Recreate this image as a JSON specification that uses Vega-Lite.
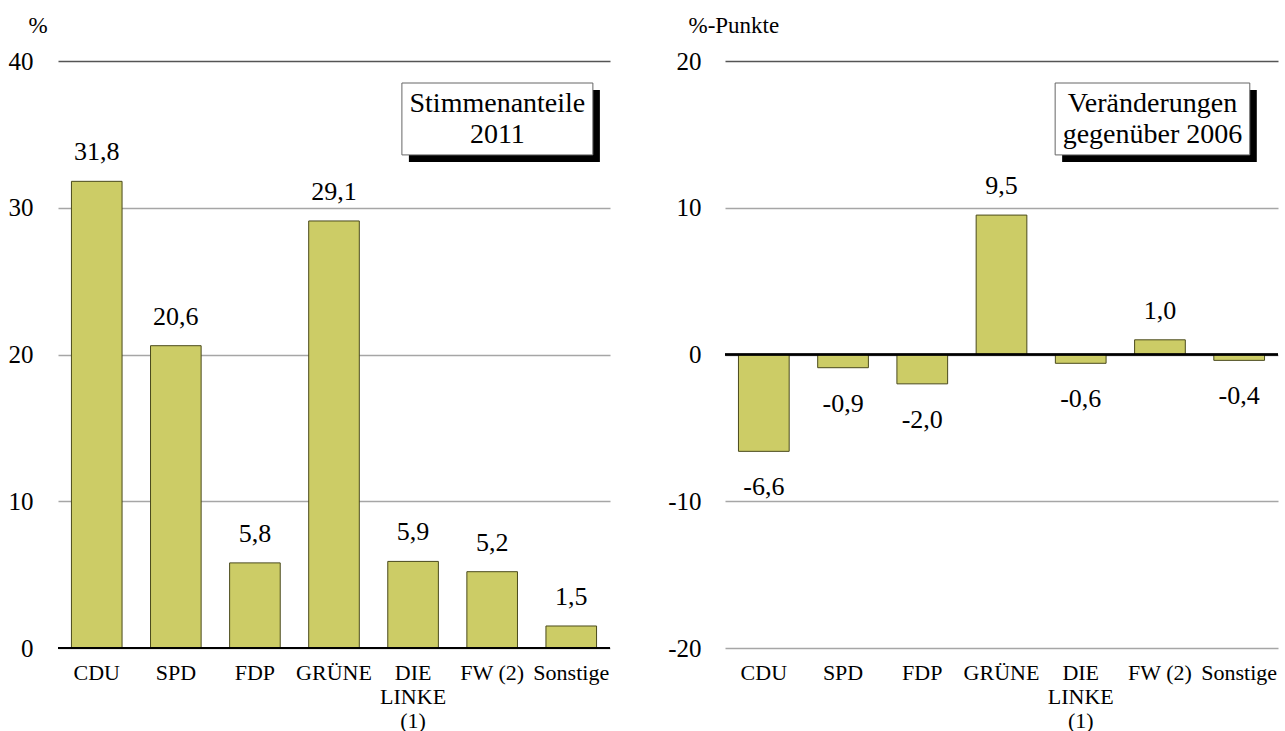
{
  "$schema": "https://vega.github.io/schema/vega-lite/v6.json",
  "background": "white",
  "padding": {"left": 8, "top": 14, "right": 0, "bottom": 0},
  "spacing": 56,
  "config": {
    "font": "'Liberation Serif', 'Times New Roman', Times, serif",
    "text": {"font": "'Liberation Serif', 'Times New Roman', Times, serif"},
    "view": {"stroke": null},
    "locale": {"number": {"decimal": ",", "thousands": ".", "grouping": [3], "currency": ["", " €"], "minus": "-"}},
    "axis": {"labelColor": "#000", "titleColor": "#000", "titleFontWeight": "normal", "labelFont": "'Liberation Serif', 'Times New Roman', Times, serif", "titleFont": "'Liberation Serif', 'Times New Roman', Times, serif"}
  },
  "datasets": {
    "anteile": [
      {"partei": "CDU", "wert": 31.8},
      {"partei": "SPD", "wert": 20.6},
      {"partei": "FDP", "wert": 5.8},
      {"partei": "GRÜNE", "wert": 29.1},
      {"partei": "DIE LINKE (1)", "wert": 5.9},
      {"partei": "FW (2)", "wert": 5.2},
      {"partei": "Sonstige", "wert": 1.5}
    ],
    "veraenderung": [
      {"partei": "CDU", "wert": -6.6},
      {"partei": "SPD", "wert": -0.9},
      {"partei": "FDP", "wert": -2.0},
      {"partei": "GRÜNE", "wert": 9.5},
      {"partei": "DIE LINKE (1)", "wert": -0.6},
      {"partei": "FW (2)", "wert": 1.0},
      {"partei": "Sonstige", "wert": -0.4}
    ],
    "box1": [{"text": "Stimmenanteile\n2011"}],
    "box2": [{"text": "Veränderungen\ngegenüber 2006"}]
  },
  "hconcat": [
    {
      "width": 552,
      "height": 587,
      "resolve": {"scale": {"x": "independent"}},
      "layer": [
        {
          "data": {"name": "anteile"},
          "layer": [
            {
              "mark": {"type": "bar", "fill": "#cccc66", "stroke": "#4a4a1c", "strokeWidth": 1},
              "encoding": {
                "x": {
                  "field": "partei", "type": "nominal", "sort": null,
                  "scale": {"paddingInner": 0.36, "paddingOuter": 0.17},
                  "axis": {"title": null, "labelAngle": 0, "labelFontSize": 22, "labelPadding": 14, "labelBaseline": "top", "labelLineHeight": 24, "ticks": false, "domain": false, "grid": false,
                    "labelExpr": "datum.label == 'DIE LINKE (1)' ? ['DIE', 'LINKE', '(1)'] : datum.label"}
                },
                "y": {
                  "field": "wert", "type": "quantitative",
                  "scale": {"domain": [0, 40], "nice": false},
                  "axis": {"values": [0, 10, 20, 30, 40], "title": "%", "titleAngle": 0, "titleAlign": "left", "titleBaseline": "alphabetic", "titleX": -30, "titleY": -29, "titleFontSize": 23,
                    "labelFontSize": 25, "labelPadding": 25, "ticks": false, "domain": false, "grid": true, "gridWidth": 1.3,
                    "gridColor": {"condition": {"test": "datum.value == 40", "value": "#555555"}, "value": "#a6a6a6"}}
                }
              }
            },
            {
              "mark": {"type": "text", "fontSize": 26, "baseline": "alphabetic", "dy": -21, "color": "#000", "font": "Liberation Serif"},
              "encoding": {
                "x": {"field": "partei", "type": "nominal", "sort": null},
                "y": {"field": "wert", "type": "quantitative"},
                "text": {"field": "wert", "type": "quantitative", "format": ".1f"}
              }
            },
            {
              "mark": {"type": "rule", "color": "#000", "strokeWidth": 1.5},
              "encoding": {"y": {"datum": 0}}
            }
          ]
        },
        {
          "data": {"name": "box1"},
          "layer": [
            {
              "mark": {"type": "rect", "fill": "#000", "xOffset": 7, "x2Offset": 7, "yOffset": 7, "y2Offset": 7},
              "encoding": {
                "x": {"datum": 0.623, "type": "quantitative", "scale": {"domain": [0, 1], "nice": false}, "axis": null},
                "x2": {"datum": 0.969},
                "y": {"datum": 38.5},
                "y2": {"datum": 33.6}
              }
            },
            {
              "mark": {"type": "rect", "fill": "#fff", "stroke": "#666666", "strokeWidth": 1},
              "encoding": {
                "x": {"datum": 0.623, "type": "quantitative"},
                "x2": {"datum": 0.969},
                "y": {"datum": 38.5},
                "y2": {"datum": 33.6}
              }
            },
            {
              "mark": {"type": "text", "fontSize": 28, "lineBreak": "\n", "lineHeight": 31, "baseline": "middle", "align": "center", "color": "#000", "font": "Liberation Serif"},
              "encoding": {
                "x": {"datum": 0.796, "type": "quantitative"},
                "y": {"datum": 37.07},
                "text": {"field": "text"}
              }
            }
          ]
        }
      ]
    },
    {
      "width": 553,
      "height": 587,
      "resolve": {"scale": {"x": "independent"}},
      "layer": [
        {
          "data": {"name": "veraenderung"},
          "layer": [
            {
              "mark": {"type": "bar", "fill": "#cccc66", "stroke": "#4a4a1c", "strokeWidth": 1},
              "encoding": {
                "x": {
                  "field": "partei", "type": "nominal", "sort": null,
                  "scale": {"paddingInner": 0.36, "paddingOuter": 0.17},
                  "axis": {"title": null, "labelAngle": 0, "labelFontSize": 22, "labelPadding": 14, "labelBaseline": "top", "labelLineHeight": 24, "ticks": false, "domain": false, "grid": false,
                    "labelExpr": "datum.label == 'DIE LINKE (1)' ? ['DIE', 'LINKE', '(1)'] : datum.label"}
                },
                "y": {
                  "field": "wert", "type": "quantitative",
                  "scale": {"domain": [-20, 20], "nice": false},
                  "axis": {"values": [-20, -10, 0, 10, 20], "title": "%-Punkte", "titleAngle": 0, "titleAlign": "left", "titleBaseline": "alphabetic", "titleX": -37, "titleY": -29, "titleFontSize": 23,
                    "labelFontSize": 25, "labelPadding": 24, "ticks": false, "domain": false, "grid": true, "gridWidth": 1.3,
                    "gridColor": {"condition": {"test": "datum.value == 20", "value": "#555555"}, "value": "#a6a6a6"}}
                }
              }
            },
            {
              "transform": [{"filter": "datum.wert >= 0"}],
              "mark": {"type": "text", "fontSize": 26, "baseline": "alphabetic", "dy": -21, "color": "#000", "font": "Liberation Serif"},
              "encoding": {
                "x": {"field": "partei", "type": "nominal", "sort": null},
                "y": {"field": "wert", "type": "quantitative"},
                "text": {"field": "wert", "type": "quantitative", "format": ".1f"}
              }
            },
            {
              "transform": [{"filter": "datum.wert < 0"}],
              "mark": {"type": "text", "fontSize": 26, "baseline": "alphabetic", "dy": 44, "color": "#000", "font": "Liberation Serif"},
              "encoding": {
                "x": {"field": "partei", "type": "nominal", "sort": null},
                "y": {"field": "wert", "type": "quantitative"},
                "text": {"field": "wert", "type": "quantitative", "format": ".1f"}
              }
            },
            {
              "mark": {"type": "rule", "color": "#000", "strokeWidth": 1.5},
              "encoding": {"y": {"datum": 0}}
            }
          ]
        },
        {
          "data": {"name": "box2"},
          "layer": [
            {
              "mark": {"type": "rect", "fill": "#000", "xOffset": 7, "x2Offset": 7, "yOffset": 7, "y2Offset": 7},
              "encoding": {
                "x": {"datum": 0.597, "type": "quantitative", "scale": {"domain": [0, 1], "nice": false}, "axis": null},
                "x2": {"datum": 0.949},
                "y": {"datum": 18.5},
                "y2": {"datum": 13.6}
              }
            },
            {
              "mark": {"type": "rect", "fill": "#fff", "stroke": "#666666", "strokeWidth": 1},
              "encoding": {
                "x": {"datum": 0.597, "type": "quantitative"},
                "x2": {"datum": 0.949},
                "y": {"datum": 18.5},
                "y2": {"datum": 13.6}
              }
            },
            {
              "mark": {"type": "text", "fontSize": 28, "lineBreak": "\n", "lineHeight": 31, "baseline": "middle", "align": "center", "color": "#000", "font": "Liberation Serif"},
              "encoding": {
                "x": {"datum": 0.773, "type": "quantitative"},
                "y": {"datum": 17.07},
                "text": {"field": "text"}
              }
            }
          ]
        }
      ]
    }
  ]
}
